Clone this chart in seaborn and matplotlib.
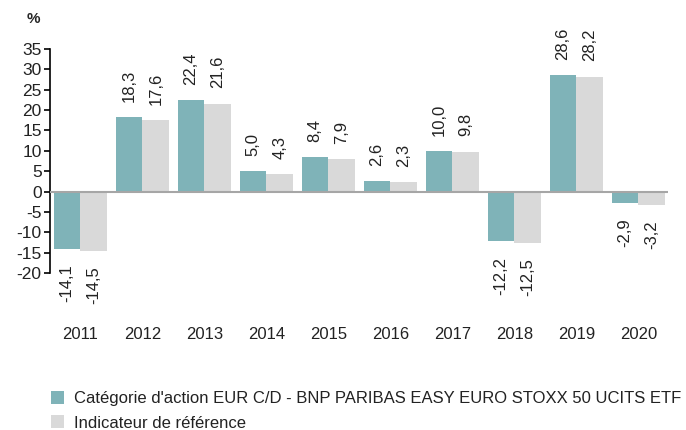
import matplotlib
matplotlib.use("Agg")
import matplotlib.pyplot as plt
import seaborn as sns
import pandas as pd

# ---------------------------------------------------------------------
# Data
# ---------------------------------------------------------------------
years = ["2011", "2012", "2013", "2014", "2015", "2016", "2017", "2018", "2019", "2020"]
fund = [-14.1, 18.3, 22.4, 5.0, 8.4, 2.6, 10.0, -12.2, 28.6, -2.9]
benchmark = [-14.5, 17.6, 21.6, 4.3, 7.9, 2.3, 9.8, -12.5, 28.2, -3.2]
series_names = [
    "Catégorie d'action EUR C/D - BNP PARIBAS EASY EURO STOXX 50 UCITS ETF",
    "Indicateur de référence",
]
colors = ["#7fb3b8", "#d9d9d9"]

df = pd.DataFrame({
    "year": years * 2,
    "value": fund + benchmark,
    "series": [series_names[0]] * len(years) + [series_names[1]] * len(years),
})

# ---------------------------------------------------------------------
# Plot
# ---------------------------------------------------------------------
sns.set_style("white")
plt.rcParams["font.family"] = ["Liberation Sans", "DejaVu Sans"]
plt.rcParams["axes.unicode_minus"] = False

fig = plt.figure(figsize=(6.86, 4.30), dpi=100)
ax = fig.add_axes([0.073, 0.365, 0.901, 0.521])

sns.barplot(data=df, x="year", y="value", hue="series", order=years,
            hue_order=series_names, palette=colors, width=0.86,
            saturation=1, ax=ax, legend=True, linewidth=0)

for cont in ax.containers:
    labels = [f"{b.get_height():.1f}".replace(".", ",") for b in cont]
    ax.bar_label(cont, labels=labels, rotation=90, padding=11,
                 fontsize=12, color="#222222")

ax.axhline(0, color="#a6a6a6", lw=1.5, zorder=3)
ax.set_ylim(-20, 35)
ax.set_yticks(range(-20, 36, 5))
ax.set_xlim(-0.49, 9.48)
ax.set_xlabel("")
ax.set_ylabel("")

for s in ["top", "right", "bottom"]:
    ax.spines[s].set_visible(False)
ax.spines["left"].set_color("black")
ax.spines["left"].set_linewidth(1.2)
ax.tick_params(axis="y", direction="out", length=4, width=1.2, color="black",
               labelsize=12.5, pad=2, left=True, labelcolor="#222222")
ax.tick_params(axis="x", length=0, labelsize=12, pad=39, labelcolor="#222222")

fig.text(0.048, 0.955, "%", fontsize=11, fontweight="bold", ha="center", va="center")

handles, lbls = ax.get_legend_handles_labels()
ax.get_legend().remove()
fig.legend(handles, lbls, loc="upper left", bbox_to_anchor=(0.062, 0.11),
           frameon=False, fontsize=12, handlelength=0.8, handleheight=0.8,
           handletextpad=0.6, labelspacing=0.55, borderpad=0,
           labelcolor="#222222")

plt.savefig("out.png", dpi=100)
plt.close()
